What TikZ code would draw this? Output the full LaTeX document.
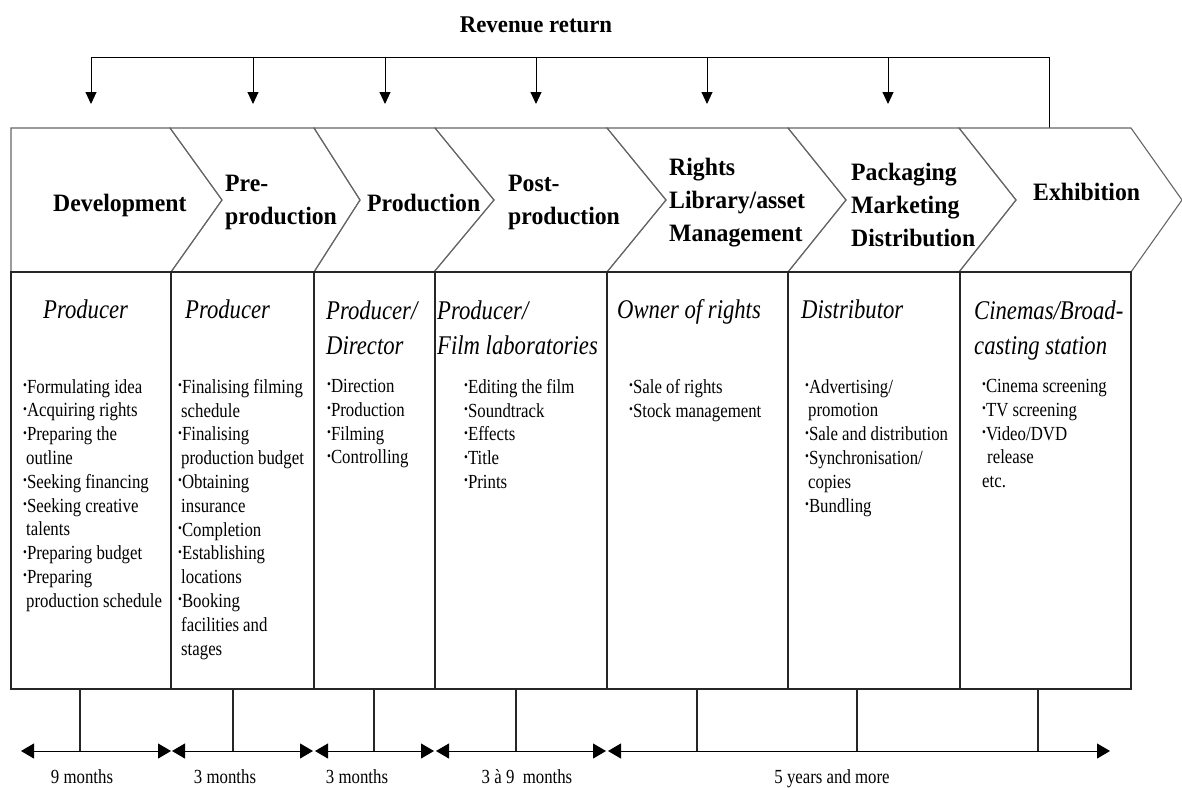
\documentclass[tikz,border=0pt]{standalone}
\usepackage{fontspec}
\setmainfont{Liberation Serif}
\newfontfamily\headfont[FakeStretch=0.95]{Liberation Serif}
\newfontfamily\bodyfont[FakeStretch=0.84]{Liberation Serif}
\usetikzlibrary{arrows.meta}
\newcommand{\bul}{\raisebox{3.5pt}{\fontsize{13}{13}\selectfont •}}
\newcommand{\cont}{\hspace*{3pt}}

\begin{document}
\begin{tikzpicture}[x=1pt,y=-1pt]
    \tikzset{title/.style = {font=\headfont\bfseries\fontsize{24}{30}\selectfont, anchor=base, inner sep=0pt}}
    \tikzset{head/.style = {font=\headfont\bfseries\fontsize{25}{33}\selectfont, align=left, anchor=north west,
        inner sep=0pt, execute at begin node={\rule{0pt}{20pt}}}}
    \tikzset{role/.style = {font=\bodyfont\itshape\fontsize{27}{35}\selectfont, align=left, anchor=north west,
        inner sep=0pt, execute at begin node={\rule{0pt}{22pt}}}}
    \tikzset{items/.style = {font=\bodyfont\fontsize{20}{23.8}\selectfont, align=left, anchor=north west,
        inner sep=0pt, execute at begin node={\rule{0pt}{16pt}}}}
    \tikzset{span/.style = {font=\bodyfont\fontsize{20}{24}\selectfont, anchor=base, inner sep=0pt}}
    \tikzset{chev/.style = {draw=black!60, line width=1.1pt, line join=miter}}
    \tikzset{grid/.style = {draw=black!85, line width=1.1pt}}
    \tikzset{down/.style = {-{Triangle[length=12pt,width=11pt]}, line width=1pt}}
    \tikzset{both/.style = {{Triangle[length=13pt,width=15pt]}-{Triangle[length=13pt,width=15pt]}, line width=1pt}}
    \useasboundingbox (0,0) rectangle (1182,787);

    % revenue return
    \node[title] (rev) at (536,32) {Revenue return};
    \coordinate (revL) at (91,57);
    \coordinate (revR) at (1049,57);
    \coordinate (revE) at (1049,128);
    \draw[line width=1pt] (revL) -- (revR) -- (revE);
    \foreach \x [count=\i] in {91,253,385,536,707,888} {
        \coordinate (rs\i) at (\x,57);
        \coordinate (re\i) at (\x,104);
        \draw[down] (rs\i) -- (re\i);
    }

    % chevrons
    \draw[chev] (11,128) -- (170,128) -- (222,200) -- (171,272) -- (11,272) -- cycle;
    \foreach \xa/\xb/\xc/\xd/\xe/\xf in {170/222/171/314/360/314, 314/360/314/435/494/434,
        435/494/434/607/666/607, 607/666/607/788/846/788, 788/846/788/959/1016/959,
        959/1016/959/1131/1182/1131}
        \draw[chev] (\xa,128) -- (\xd,128) -- (\xe,200) -- (\xf,272) -- (\xc,272) -- (\xb,200) -- cycle;

    % table
    \draw[grid] (11,272) rectangle (1131,689);
    \foreach \x in {171,314,435,607,788,960}
        \draw[grid] (\x,272) -- (\x,689);

    % stage names
    \node[head] (hdev) at (53,191) {Development};
    \node[head] (hpre) at (225,175) {Pre-\\production};
    \node[head] (hpro) at (367,191) {Production};
    \node[head] (hpost) at (508,175) {Post-\\production};
    \node[head] (hrig) at (669,158) {Rights\\Library/asset\\Management};
    \node[head] (hpack) at (851,163) {Packaging\\Marketing\\Distribution};
    \node[head] (hexh) at (1033,180) {Exhibition};

    % actors
    \node[role] (a1) at (43,296) {Producer};
    \node[role] (a2) at (185,296) {Producer};
    \node[role] (a3) at (326,301) {Producer/\\Director};
    \node[role] (a4) at (437,301) {Producer/\\Film laboratories};
    \node[role] (a5) at (617,296) {Owner of rights};
    \node[role] (a6) at (801,296) {Distributor};
    \node[role] (a7) at (974,301) {Cinemas/Broad-\\casting station};

    % tasks
    \node[items] (t1) at (23,379) {\bul Formulating idea\\ \bul Acquiring rights\\ \bul Preparing the\\
        \cont outline\\ \bul Seeking financing\\ \bul Seeking creative\\ \cont talents\\
        \bul Preparing budget\\ \bul Preparing\\ \cont production schedule};
    \node[items] (t2) at (178,379) {\bul Finalising filming\\ \cont schedule\\ \bul Finalising\\
        \cont production budget\\ \bul Obtaining\\ \cont insurance\\ \bul Completion\\
        \bul Establishing\\ \cont locations\\ \bul Booking\\ \cont facilities and\\ \cont stages};
    \node[items] (t3) at (327,379) {\bul Direction\\ \bul Production\\ \bul Filming\\ \bul Controlling};
    \node[items] (t4) at (464,379) {\bul Editing the film\\ \bul Soundtrack\\ \bul Effects\\ \bul Title\\ \bul Prints};
    \node[items] (t5) at (629,379) {\bul Sale of rights\\ \bul Stock management};
    \node[items] (t6) at (805,379) {\bul Advertising/\\ \cont promotion\\ \bul Sale and distribution\\
        \bul Synchronisation/\\ \cont copies\\ \bul Bundling};
    \node[items] (t7) at (982,379) {\bul Cinema screening\\ \bul TV screening\\ \bul Video/DVD\\
        \hspace*{5pt}release\\ etc.};

    % time line
    \foreach \x [count=\i] in {80,233,374,516,697,857,1038} {
        \coordinate (ka\i) at (\x,689);
        \coordinate (kb\i) at (\x,751);
        \draw[grid] (ka\i) -- (kb\i);
    }
    \foreach \xa/\xb [count=\i] in {21/171, 172/313, 315/434, 436/606, 608/1110} {
        \coordinate (sa\i) at (\xa,751);
        \coordinate (sb\i) at (\xb,751);
        \draw[both] (sa\i) -- (sb\i);
    }
    \node[span] (d1) at (82,783) {9 months};
    \node[span] (d2) at (225,783) {3 months};
    \node[span] (d3) at (357,783) {3 months};
    \node[span] (d4) at (527,783) {3 à 9\ \ months};
    \node[span] (d5) at (832,783) {5 years and more};
\end{tikzpicture}
\end{document}
